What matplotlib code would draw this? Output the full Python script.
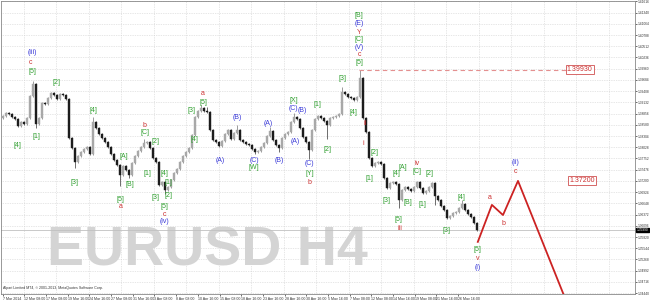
import numpy as np
import matplotlib.pyplot as plt
import matplotlib.transforms as mtransforms

plt.rcParams['font.family'] = ['Liberation Sans', 'DejaVu Sans']

# EURUSD H4 closes (one value per candle shown)
first_open = 1.3875
closes = [1.3880, 1.3887, 1.3885, 1.3877, 1.3872, 1.3855, 1.3865, 1.3860, 1.3875, 1.3929,
          1.3958, 1.3860, 1.3875, 1.3912, 1.3909, 1.3924, 1.3936, 1.3931, 1.3921, 1.3934,
          1.3931, 1.3921, 1.3825, 1.3801, 1.3766, 1.3781, 1.3791, 1.3798, 1.3803, 1.3786,
          1.3865, 1.3850, 1.3835, 1.3825, 1.3816, 1.3803, 1.3786, 1.3771, 1.3759, 1.3735,
          1.3757, 1.3747, 1.3735, 1.3764, 1.3781, 1.3794, 1.3803, 1.3813, 1.3816, 1.3801,
          1.3776, 1.3766, 1.3710, 1.3717, 1.3698, 1.3705, 1.3722, 1.3739, 1.3749, 1.3766,
          1.3781, 1.3791, 1.3801, 1.3833, 1.3877, 1.3892, 1.3899, 1.3892, 1.3889, 1.3845,
          1.3821, 1.3816, 1.3806, 1.3818, 1.3835, 1.3845, 1.3823, 1.3838, 1.3845, 1.3821,
          1.3816, 1.3811, 1.3808, 1.3798, 1.3791, 1.3794, 1.3803, 1.3813, 1.3830, 1.3843,
          1.3821, 1.3808, 1.3801, 1.3825, 1.3835, 1.3840, 1.3865, 1.3877, 1.3872, 1.3850,
          1.3828, 1.3816, 1.3796, 1.3845, 1.3872, 1.3880, 1.3875, 1.3867, 1.3857, 1.3875,
          1.3877, 1.3880, 1.3885, 1.3939, 1.3934, 1.3926, 1.3924, 1.3919, 1.3926, 1.3973,
          1.3875, 1.3840, 1.3776, 1.3757, 1.3764, 1.3766, 1.3761, 1.3727, 1.3703, 1.3715,
          1.3717, 1.3712, 1.3673, 1.3698, 1.3705, 1.3700, 1.3695, 1.3705, 1.3717, 1.3703,
          1.3690, 1.3695, 1.3705, 1.3715, 1.3683, 1.3673, 1.3658, 1.3648, 1.3629, 1.3634,
          1.3641, 1.3643, 1.3653, 1.3663, 1.3648, 1.3639, 1.3631, 1.3616, 1.3599]

# long wicks visible on the chart
spike_hi = {10: 1.3966, 30: 1.3877, 47: 1.3823, 66: 1.3907, 68: 1.3902, 78: 1.3857,
            89: 1.3853, 97: 1.3887, 113: 1.3951, 119: 1.3993, 153: 1.3673}
spike_lo = {11: 1.3850, 24: 1.3752, 39: 1.3707, 42: 1.3727, 54: 1.3688, 84: 1.3786,
            92: 1.3791, 102: 1.3774, 108: 1.3823, 132: 1.3653, 144: 1.3661}

# projected path drawn after the last candle
proj_x = [158.3, 163.0, 166.7, 171.7, 189.0]
proj_p = [1.3570, 1.3661, 1.3636, 1.3720, 1.3402]

target_hi = 1.39930
target_lo = 1.37200

price_ticks = [1.34440, 1.34716, 1.34992, 1.35268, 1.35544, 1.35820, 1.36096, 1.36372,
               1.36648, 1.36924, 1.37200, 1.37476, 1.37752, 1.38028, 1.38304, 1.38580,
               1.38856, 1.39132, 1.39408, 1.39684, 1.39960, 1.40236, 1.40512, 1.40788,
               1.41064, 1.41340, 1.41616]

date_labels = ['7 Mar 2014', '12 Mar 08:00', '17 Mar 08:00', '19 Mar 16:00', '24 Mar 16:00',
               '27 Mar 08:00', '31 Mar 16:00', '3 Apr 08:00', '8 Apr 08:00', '10 Apr 16:00',
               '15 Apr 08:00', '18 Apr 16:00', '23 Apr 16:00', '28 Apr 16:00', '30 Apr 16:00',
               '5 May 16:00', '7 May 08:00', '12 May 08:00', '14 May 16:00', '19 May 08:00',
               '21 May 16:00', '26 May 16:00']

G, R, B = '#2f9f2f', '#cc3030', '#3a3ad8'
waves = [('(iii)', 9.7, 1.4037, B), ('c', 9.3, 1.4012, R), ('[5]', 9.7, 1.3990, G),
         ('[2]', 18.0, 1.3963, G), ('[1]', 11.0, 1.3828, G), ('[4]', 4.7, 1.3806, G),
         ('[4]', 30.0, 1.3892, G), ('[3]', 24.0, 1.3717, G), ('[A]', 40.3, 1.3779, G),
         ('[B]', 42.3, 1.3710, G), ('[5]', 39.3, 1.3675, G), ('a', 39.3, 1.3656, R),
         ('b', 47.3, 1.3857, R), ('[C]', 47.3, 1.3840, G), ('[2]', 50.7, 1.3816, G),
         ('[1]', 48.3, 1.3737, G), ('[4]', 53.7, 1.3739, G), ('[3]', 51.0, 1.3680, G),
         ('[2]', 55.3, 1.3683, G), ('[1]', 55.0, 1.3715, G), ('[5]', 53.7, 1.3656, G),
         ('c', 53.7, 1.3638, R), ('(iv)', 54.0, 1.3619, B),
         ('[3]', 63.0, 1.3894, G), ('[4]', 63.7, 1.3821, G), ('[5]', 66.7, 1.3914, G),
         ('a', 66.7, 1.3936, R), ('(A)', 72.3, 1.3771, B), ('(B)', 78.0, 1.3875, B),
         ('(C)', 83.7, 1.3769, B), ('[W]', 83.7, 1.3754, G), ('(A)', 88.3, 1.3862, B),
         ('(B)', 92.0, 1.3769, B), ('[X]', 97.0, 1.3917, G), ('(C)', 96.8, 1.3899, B),
         ('(B)', 99.8, 1.3892, B), ('(A)', 97.3, 1.3816, B), ('(C)', 102.3, 1.3762, B),
         ('[Y]', 102.3, 1.3739, G), ('b', 102.3, 1.3717, R), ('[1]', 104.7, 1.3907, G),
         ('[2]', 108.3, 1.3798, G), ('[3]', 113.3, 1.3971, G), ('[4]', 117.0, 1.3889, G),
         ('[B]', 118.7, 1.4126, G), ('(E)', 118.7, 1.4106, B), ('Y', 118.7, 1.4086, R),
         ('[C]', 118.7, 1.4069, G), ('(V)', 118.7, 1.4049, B), ('c', 118.7, 1.4032, R),
         ('[5]', 118.7, 1.4010, G), ('ii', 120.7, 1.3860, R), ('i', 120.0, 1.3811, R),
         ('[2]', 123.7, 1.3789, G), ('[1]', 122.3, 1.3725, G), ('[3]', 127.7, 1.3671, G),
         ('[4]', 131.3, 1.3737, G), ('[A]', 133.3, 1.3752, G), ('[5]', 132.0, 1.3626, G),
         ('iii', 132.3, 1.3604, R), ('[B]', 135.0, 1.3668, G), ('iv', 138.0, 1.3764, R),
         ('[C]', 138.0, 1.3742, G), ('[1]', 140.0, 1.3661, G), ('[2]', 142.3, 1.3739, G),
         ('[3]', 148.0, 1.3599, G), ('[4]', 153.0, 1.3680, G), ('[5]', 158.3, 1.3552, G),
         ('v', 158.3, 1.3530, R), ('(i)', 158.3, 1.3506, B), ('a', 162.3, 1.3680, R),
         ('b', 166.7, 1.3616, R), ('c', 171.0, 1.3742, R), ('(ii)', 171.0, 1.3766, B)]

fig = plt.figure(figsize=(6.5, 3), dpi=100)
ax = fig.add_axes([0.0015, 6 / 300, 634 / 650, 293 / 300])
ax.set_xlim(-0.67, 210.7)
ax.set_ylim(1.34418, 1.41625)

# grid
for p in price_ticks:
    ax.axhline(p, color='#cfcfcf', lw=0.5, ls=(0, (1, 1.5)), zorder=0)
for gx in np.arange(7, 211, 10.833):
    ax.axvline(gx, color='#cfcfcf', lw=0.5, ls=(0, (1, 1.5)), zorder=0)

ax.text(0.325, 0.145, 'EURUSD H4', transform=ax.transAxes, fontsize=40,
        fontweight='bold', color='#d4d4d4', ha='center', va='center', zorder=0.5)

# candles
n = len(closes)
opens = [first_open] + closes[:-1]
xs = np.arange(n)
for i in range(n):
    o, c = opens[i], closes[i]
    hi = spike_hi.get(i, max(o, c) + 0.0002)
    lo = spike_lo.get(i, min(o, c) - 0.0002)
    col = '#a8a8a8' if c >= o else '#1c1c1c'
    ax.vlines(xs[i], lo, hi, color='#555555' if c < o else '#8a8a8a', lw=0.6, zorder=2)
    ax.bar(xs[i], max(abs(c - o), 0.00008), bottom=min(o, c), width=0.6,
           color=col, edgecolor=col, lw=0.3, zorder=3)

# bid line and label
ax.axhline(closes[-1], color='#c0c0c0', lw=0.6, zorder=1)
blend = mtransforms.blended_transform_factory(ax.transAxes, ax.transData)
ax.text(1.003, closes[-1], f'{closes[-1]:.5f}', transform=blend, fontsize=2.3,
        color='white', va='center', ha='left', clip_on=False,
        bbox=dict(boxstyle='square,pad=0.12', fc='black', ec='black'))

# projection and target levels
ax.plot(proj_x, proj_p, color='#cc2222', lw=1.3, zorder=4)
ax.hlines(target_hi, 118.7, 188.0, color='#e49090', lw=0.8, ls=(0, (4, 3)), zorder=4)
for tx, tp in [(192.3, target_hi), (193.0, target_lo)]:
    ax.text(tx, tp, f'{tp:.5f}', fontsize=5, color='#cc3030', ha='center', va='center',
            bbox=dict(boxstyle='square,pad=0.15', fc='white', ec='#d05050', lw=0.6), zorder=5)

for t, bx, bp, c in waves:
    ax.text(bx, bp, t, fontsize=5, color=c, ha='center', va='center', zorder=6)

# axes
ax.yaxis.tick_right()
ax.set_yticks(price_ticks)
ax.set_yticklabels([f'{p:.5f}' for p in price_ticks])
ax.tick_params(axis='y', labelsize=2.3, length=1.5, pad=0.5, colors='#333333', width=0.5)
ax.set_xticks(np.arange(len(date_labels)) * 7.23 - 0.1)
ax.set_xticklabels(date_labels, ha='left')
ax.tick_params(axis='x', labelsize=2.6, length=1.5, pad=0.5, colors='#333333', width=0.5)
for s in ax.spines.values():
    s.set_color('#888888')
    s.set_linewidth(0.6)

fig.text(3 / 650, 1 - 287.5 / 300, 'Alpari Limited MT4, \u00a9 2001-2013, MetaQuotes Software Corp.',
         fontsize=2.6, color='#333333', va='center', ha='left')

fig.savefig('out.png', dpi=100)
